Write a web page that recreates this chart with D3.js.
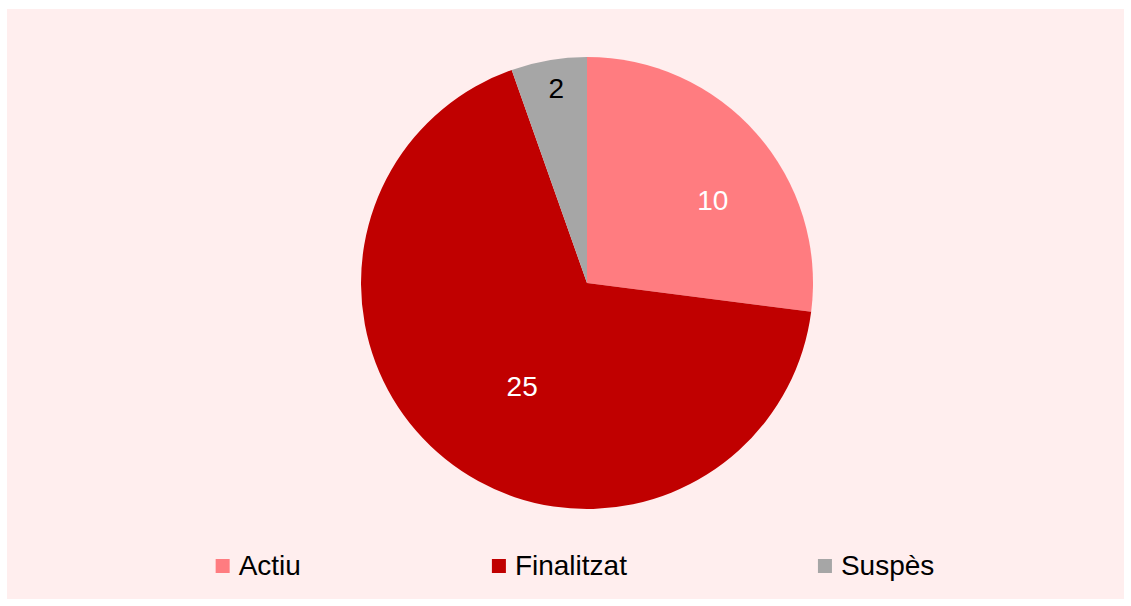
<!DOCTYPE html>
<html>
<head>
<meta charset="utf-8">
<script src="https://cdn.jsdelivr.net/npm/d3@7"></script>
<style>
  html, body { margin: 0; padding: 0; background: #ffffff; }
  svg { display: block; }
  text { font-family: "Liberation Sans", Arial, sans-serif; }
</style>
</head>
<body>
<svg id="chart" width="1131" height="606"></svg>
<script>
const categories = ["Actiu", "Finalitzat", "Suspès"];
const values = [10, 25, 2];
const colors = ["#FF7C80", "#C00000", "#A6A6A6"];
const labelColors = ["#ffffff", "#ffffff", "#000000"];

const W = 1131, H = 606;
const svg = d3.select("#chart");

svg.append("rect")
  .attr("x", 7).attr("y", 9)
  .attr("width", 1117).attr("height", 590)
  .attr("fill", "#FFEEEE");

const cx = 587, cy = 283, R = 226;
const g = svg.append("g").attr("transform", `translate(${cx},${cy})`);

const pie = d3.pie().value(d => d).sort(null);
const arcs = pie(values);
const arc = d3.arc().innerRadius(0).outerRadius(R);

g.selectAll("path.slice")
  .data(arcs)
  .enter().append("path")
  .attr("class", "slice")
  .attr("d", arc)
  .attr("fill", (d, i) => colors[i]);

// label placement (Excel best-fit style): angle fraction within slice, radius fraction
const labelPlace = [[0.58, 0.668], [0.472, 0.54], [0.54, 0.872]];
g.selectAll("text.lbl")
  .data(arcs)
  .enter().append("text")
  .attr("class", "lbl")
  .attr("transform", (d, i) => {
    const a = d.startAngle + (d.endAngle - d.startAngle) * labelPlace[i][0];
    const r = R * labelPlace[i][1];
    return `translate(${r * Math.sin(a)},${-r * Math.cos(a)})`;
  })
  .attr("text-anchor", "middle")
  .attr("dy", "0.36em")
  .attr("font-size", 28)
  .attr("fill", (d, i) => labelColors[i])
  .text(d => d.data);

// legend
const legend = svg.append("g");
const items = legend.selectAll("g.item")
  .data(categories)
  .enter().append("g").attr("class", "item");
items.append("rect")
  .attr("x", 0).attr("y", -16)
  .attr("width", 14).attr("height", 14)
  .attr("fill", (d, i) => colors[i]);
items.append("text")
  .attr("x", 23).attr("y", 0)
  .attr("font-size", 28)
  .attr("fill", "#000")
  .text(d => d);

const gap = 191;
const widths = [];
items.each(function () {
  widths.push(23 + d3.select(this).select("text").node().getComputedTextLength());
});
const total = d3.sum(widths) + gap * (widths.length - 1);
let x = 575 - total / 2;
items.attr("transform", (d, i) => {
  const t = `translate(${x},575)`;
  x += widths[i] + gap;
  return t;
});
</script>
</body>
</html>
